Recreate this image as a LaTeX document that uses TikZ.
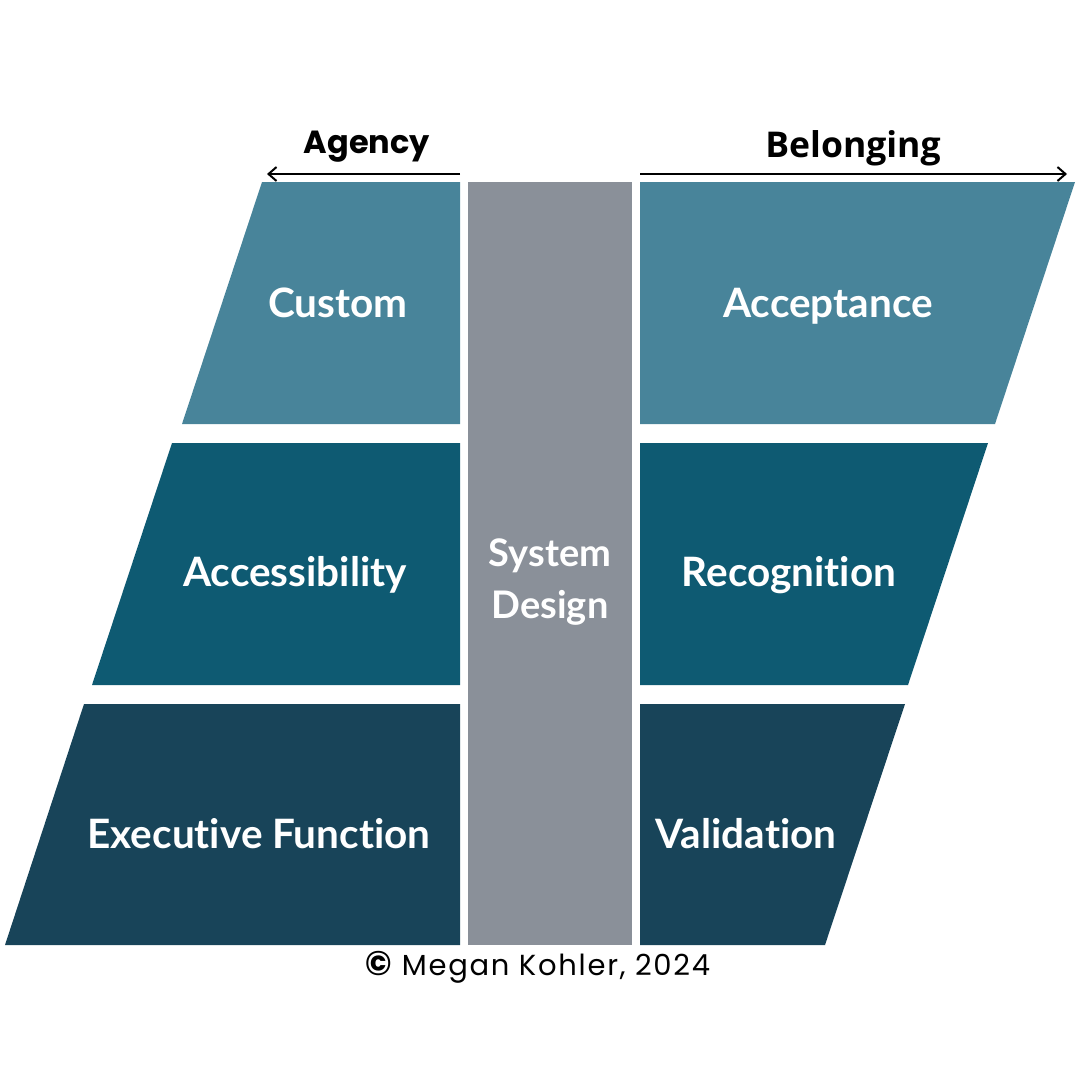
\documentclass[tikz,border=0pt]{standalone}
\usepackage{fontspec}
\setmainfont{Lato}[Ligatures=NoCommon]
\newfontfamily\headfont{Poppins}
\newfontfamily\belongfont{Open Sans}
\usetikzlibrary{arrows.meta}
\definecolor{tealtop}{HTML}{48849A}
\definecolor{tealmid}{HTML}{0E5A72}
\definecolor{teallow}{HTML}{184459}
\definecolor{pillar}{HTML}{8A9099}
\tikzset{
blocktext/.style={text=white, inner sep=0pt, text height=28pt, text depth=0pt, font=\bfseries\fontsize{40.5}{42}\selectfont}, % white words on the blocks
heading/.style={inner sep=0pt, text height=23pt, text depth=0pt}, % the two words over the arrows
axis/.style={-{Straight Barb[length=8pt, width=14pt, line width=2pt]}, line width=2.5pt}, % the two long arrows
}

\begin{document}
\begin{tikzpicture}[x=1pt, y=-1pt]
\useasboundingbox (0,0) rectangle (1080,1080);
% left side
\fill[tealtop] (262,182) -- (460,182) -- (460,424) -- (182,424) -- cycle;
\fill[tealmid] (172,443) -- (460,443) -- (460,685) -- (92,685) -- cycle;
\fill[teallow] (84,704) -- (460,704) -- (460,945) -- (5,945) -- cycle;
% middle
\fill[pillar] (468,182) rectangle (632,945);
% right side
\fill[tealtop] (640,182) -- (1075,182) -- (995,424) -- (640,424) -- cycle;
\fill[tealmid] (640,443) -- (988,443) -- (908,685) -- (640,685) -- cycle;
\fill[teallow] (640,704) -- (905,704) -- (825,945) -- (640,945) -- cycle;

\node[blocktext] (custom) at (338,303) {Custom};
\node[blocktext] (access) at (295,572) {Accessibility};
\node[blocktext] (exec) at (259,834) {Executive Function};
\node[blocktext] (accept) at (828,303) {Acceptance};
\node[blocktext] (recog) at (789,572) {Recognition};
\node[blocktext] (valid) at (746,834) {Validation};
\node[text=white, align=center, font=\bfseries\fontsize{38}{52}\selectfont] (system) at (550,582) {System\\Design};

\coordinate (agencyL) at (267,174);
\coordinate (agencyR) at (460,174);
\coordinate (belongL) at (640,174);
\coordinate (belongR) at (1067,174);
\draw[axis] (agencyR) -- (agencyL);
\draw[axis] (belongL) -- (belongR);
\node[heading, font=\headfont\bfseries\fontsize{32}{34}\selectfont] (agency) at (367,142) {Agency};
\node[heading, text height=24pt, font=\belongfont\bfseries\fontsize{35.5}{37}\selectfont] (belong) at (853,145) {Belonging};

\node[inner sep=0pt, text height=19pt, text depth=0pt, font=\headfont\fontsize{29}{31}\selectfont\addfontfeature{LetterSpace=6}] (copy) at (538,966) {{\bfseries\fontsize{34}{34}\selectfont ©} Megan Kohler, 2024};
\end{tikzpicture}
\end{document}
